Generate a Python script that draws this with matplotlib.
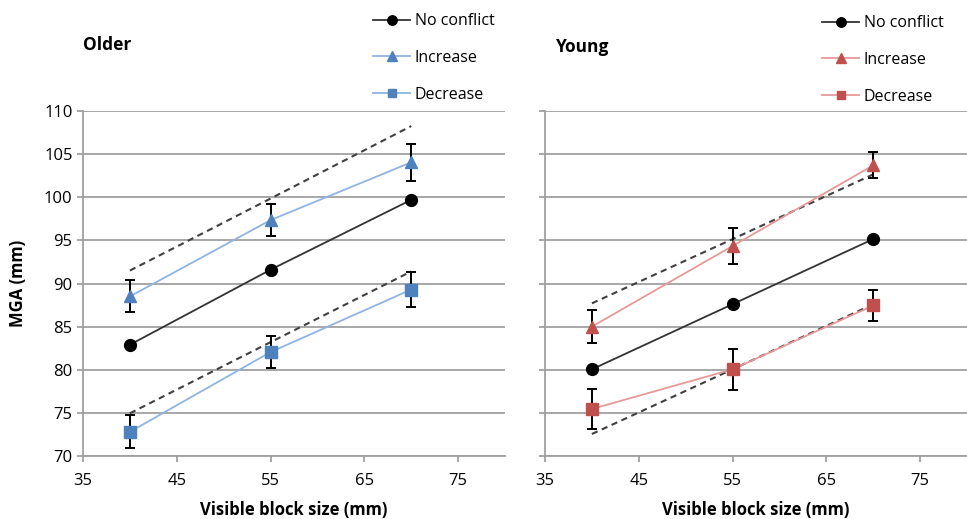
import numpy as np
import matplotlib
matplotlib.use("Agg")
import matplotlib.pyplot as plt

plt.rcParams['font.family'] = ['Open Sans', 'DejaVu Sans']

sizes = [40, 55, 70]

# Older group
older_none = [82.9, 91.6, 99.7]
older_inc = [88.5, 97.35, 104.05]
older_inc_err = [1.85, 1.9, 2.15]
older_dec = [72.8, 82.05, 89.3]
older_dec_err = [1.9, 1.9, 2.0]
older_pred_up = [91.5, 99.85, 108.25]
older_pred_lo = [74.95, 83.2, 91.4]

# Young group
young_none = [80.05, 87.6, 95.15]
young_inc = [85.0, 94.35, 103.7]
young_inc_err = [1.9, 2.1, 1.5]
young_dec = [75.45, 80.05, 87.45]
young_dec_err = [2.3, 2.4, 1.8]
young_pred_up = [87.7, 95.15, 102.65]
young_pred_lo = [72.55, 80.05, 87.6]

yticks = np.arange(70, 111, 5)
xticks = [35, 45, 55, 65, 75]

grid_c = '#a0a0a0'

fig = plt.figure(figsize=(9.67, 5.19), dpi=100)
ax1 = fig.add_axes([83/967, 1-456/519, 422/967, 345/519])
ax2 = fig.add_axes([545/967, 1-456/519, 422/967, 345/519])


def draw(ax, none, inc, inc_err, dec, dec_err, up, lo, line_c, mark_c, show_y):
    ax.set_xlim(35, 80)
    ax.set_ylim(70, 110)
    ax.set_yticks(yticks)
    ax.set_xticks(xticks)
    ax.grid(axis='y', color=grid_c, lw=1.3)
    ax.set_axisbelow(True)
    for s in ['top', 'right']:
        ax.spines[s].set_visible(False)
    for s in ['left', 'bottom']:
        ax.spines[s].set_color(grid_c)
        ax.spines[s].set_linewidth(1.3)
    ax.tick_params(axis='both', color=grid_c, length=4, width=1.3,
                   labelsize=12, labelcolor='black')
    ax.tick_params(axis='x', pad=8)
    if not show_y:
        ax.tick_params(axis='y', labelleft=False)

    ax.plot(sizes, up, color='#404040', lw=1.5, dashes=(3, 2.2), zorder=2)
    ax.plot(sizes, lo, color='#404040', lw=1.5, dashes=(3, 2.2), zorder=2)

    ax.errorbar(sizes, inc, yerr=inc_err, fmt='none', ecolor='black',
                elinewidth=1.4, capsize=3.5, capthick=1.4, zorder=3)
    ax.errorbar(sizes, dec, yerr=dec_err, fmt='none', ecolor='black',
                elinewidth=1.4, capsize=3.5, capthick=1.4, zorder=3)

    h1, = ax.plot(sizes, none, color='#333333', lw=1.3, marker='o', ms=8.5,
                  mfc='black', mec='black', label='No conflict', zorder=4)
    h2, = ax.plot(sizes, inc, color=line_c, lw=1.3, marker='^', ms=8.5,
                  mfc=mark_c, mec=mark_c, label='Increase', zorder=4)
    h3, = ax.plot(sizes, dec, color=line_c, lw=1.3, marker='s', ms=8,
                  mfc=mark_c, mec=mark_c, label='Decrease', zorder=4)

    ax.set_xlabel('Visible block size (mm)', fontsize=12, fontweight='bold', labelpad=9)
    return [h1, h2, h3]


hs1 = draw(ax1, older_none, older_inc, older_inc_err, older_dec, older_dec_err,
           older_pred_up, older_pred_lo, '#8eb4e3', '#4f81bd', True)
hs2 = draw(ax2, young_none, young_inc, young_inc_err, young_dec, young_dec_err,
           young_pred_up, young_pred_lo, '#e69a98', '#c0504d', False)

fig.text(83/967, 1-45/519, 'Older', fontsize=12.5, fontweight='bold', va='center', ha='left')
fig.text(556/967, 1-47/519, 'Young', fontsize=12.5, fontweight='bold', va='center', ha='left')

ax1.set_ylabel('MGA (mm)', fontsize=12, fontweight='bold', labelpad=12)

for hs, xpos, ytop in [(hs1, 362/967, 1-2/519), (hs2, 811/967, 1-4/519)]:
    fig.legend(handles=hs, loc='upper left', bbox_to_anchor=(xpos, ytop),
               frameon=False, fontsize=11.5, handlelength=2.3, handletextpad=0.3,
               labelspacing=1.3, borderaxespad=0.3, markerscale=0.8)

fig.savefig('out.png', dpi=100)
